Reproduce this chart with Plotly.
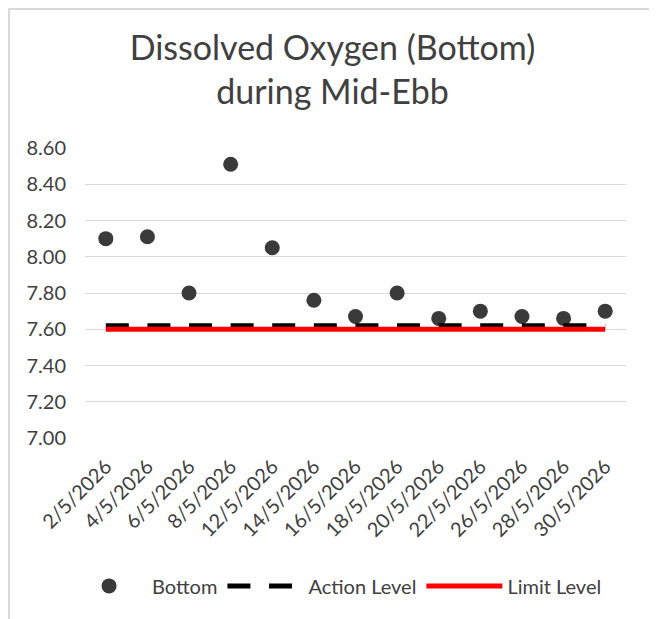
import plotly.graph_objects as go

dates = ["2/5/2026", "4/5/2026", "6/5/2026", "8/5/2026", "12/5/2026", "14/5/2026",
         "16/5/2026", "18/5/2026", "20/5/2026", "22/5/2026", "26/5/2026",
         "28/5/2026", "30/5/2026"]
bottom = [8.10, 8.11, 7.80, 8.51, 8.05, 7.76, 7.67, 7.80, 7.66, 7.70, 7.67, 7.66, 7.70]
action_level = [7.62] * len(dates)
limit_level = [7.60] * len(dates)
y_ticks = [7.00, 7.20, 7.40, 7.60, 7.80, 8.00, 8.20, 8.40, 8.60]

# page body has an 8px margin, so the figure is a bit smaller than the window
W, H = 649, 611
ml, mr, mt, mb = 77, 31, 140, 181
pw, ph = W - ml - mr, H - mt - mb

fig = go.Figure()
fig.add_trace(go.Scatter(x=dates, y=bottom, mode="markers", name="Bottom",
                         marker=dict(color="#3a3a3a", size=15)))
fig.add_trace(go.Scatter(x=dates, y=action_level, mode="lines", name="Action Level",
                         line=dict(color="black", width=5, dash="23px,18.6px")))
fig.add_trace(go.Scatter(x=dates, y=limit_level, mode="lines", name="Limit Level",
                         line=dict(color="#ff0000", width=5)))

# chart border (left, top, right)
fig.add_shape(type="path", xref="paper", yref="paper",
              path="M {x0},{y0} L {x0},{y1} L {x1},{y1} L {x1},{y0}".format(
                  x0=(1 - ml) / pw, x1=(W - 3 - ml) / pw,
                  y0=-mb / ph, y1=(H - mb - 1) / ph),
              line=dict(color="#d9d9d9", width=2), layer="below")

fig.update_layout(
    width=W, height=H,
    margin=dict(l=ml, r=mr, t=mt, b=mb),
    paper_bgcolor="white", plot_bgcolor="white",
    font=dict(family="Lato", color="#404040", size=20),
    title=dict(text="Dissolved Oxygen (Bottom)<br>during Mid-Ebb",
               x=0.5, xanchor="center", y=1 - 52 / H, yanchor="middle",
               font=dict(size=34, color="#404040")),
    xaxis=dict(type="category", range=[-0.5, len(dates) - 0.5], tickangle=-45,
               showgrid=False, showline=False, ticks="", automargin=False,
               ticklabelstandoff=12, tickfont=dict(size=20)),
    yaxis=dict(range=[7.0, 8.6], tickvals=y_ticks, tickformat=".2f",
               showgrid=True, gridcolor="#d9d9d9", gridwidth=1, zeroline=False,
               showline=False, ticks="", automargin=False, ticklabelstandoff=18,
               tickfont=dict(size=20)),
    legend=dict(orientation="h", x=0.465, xanchor="center", y=-0.51, yanchor="middle",
                font=dict(size=20, color="#404040"), itemwidth=76),
    showlegend=True,
)

fig.write_html("out.html")
